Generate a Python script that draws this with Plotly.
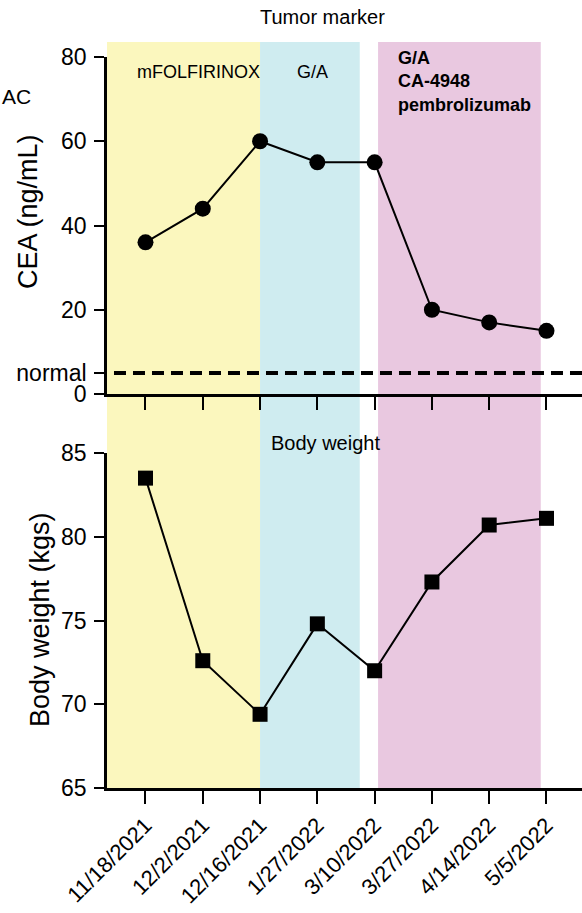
import plotly.graph_objects as go

# Visit dates and measurements
dates = ["11/18/2021", "12/2/2021", "12/16/2021", "1/27/2022",
         "3/10/2022", "3/27/2022", "4/14/2022", "5/5/2022"]
cea = [36, 44, 60, 55, 55, 20, 17, 15]
weight = [83.5, 72.6, 69.4, 74.8, 72.0, 77.3, 80.7, 81.1]
cea_normal = 5

# Treatment periods (in visit-index units)
periods = [
    (-0.672, 2.0, "#FBF7BE"),
    (2.0, 3.74, "#CFECF0"),
    (4.06, 6.9, "#E9C8E0"),
]

W, H = 582, 913
FONT = "Liberation Sans, Arial, sans-serif"


def py(px):
    return 1 - px / H


x_idx = list(range(len(dates)))
x_range = [-0.672, 7.62]

fig = go.Figure()

fig.add_trace(go.Scatter(
    x=x_idx, y=cea, mode="lines+markers", xaxis="x", yaxis="y",
    line=dict(color="black", width=2),
    marker=dict(symbol="circle", size=16, color="black"),
    showlegend=False, cliponaxis=False))

fig.add_trace(go.Scatter(
    x=x_idx, y=weight, mode="lines+markers", xaxis="x2", yaxis="y2",
    line=dict(color="black", width=2),
    marker=dict(symbol="square", size=15, color="black"),
    showlegend=False, cliponaxis=False))

shapes = []
for x0, x1, col in periods:
    shapes.append(dict(type="rect", xref="x", yref="paper", x0=x0, x1=x1,
                       y0=py(788), y1=py(42), fillcolor=col,
                       line=dict(width=0), layer="below"))
shapes.append(dict(type="line", xref="x", yref="y", x0=-0.55, x1=x_range[1],
                   y0=cea_normal, y1=cea_normal,
                   line=dict(color="black", width=4, dash="12px,7px")))

axis_common = dict(showline=True, linecolor="black", linewidth=2.5,
                   ticks="outside", tickcolor="black", tickwidth=2,
                   showgrid=False, zeroline=False, automargin=False)
tickfont_y = dict(family=FONT, size=23, color="black")

dom_x = [107 / W, 1]

fig.update_layout(
    width=W, height=H,
    margin=dict(l=0, r=0, t=0, b=0, autoexpand=False),
    paper_bgcolor="white", plot_bgcolor="rgba(0,0,0,0)",
    font=dict(family=FONT, color="black"),
    shapes=shapes,
    xaxis=dict(domain=dom_x, anchor="y", range=x_range,
               tickvals=x_idx, showticklabels=False, ticklen=13,
               **axis_common),
    yaxis=dict(domain=[py(394), py(57)], anchor="x", range=[0, 80],
               tickvals=[0, cea_normal, 20, 40, 60, 80],
               ticktext=["0", "normal", "20", "40", "60", "80"],
               ticklen=10, ticklabelstandoff=3, tickfont=tickfont_y,
               **axis_common),
    xaxis2=dict(domain=dom_x, anchor="y2", range=x_range,
                tickvals=x_idx, ticktext=dates, tickangle=-45, ticklen=13,
                ticklabelstandoff=0,
                tickfont=dict(family=FONT, size=22, color="black"),
                **axis_common),
    yaxis2=dict(domain=[py(788), py(453)], anchor="x2", range=[65, 85],
                tickvals=[65, 70, 75, 80, 85],
                ticklen=10, ticklabelstandoff=3, tickfont=tickfont_y,
                **axis_common),
)

ann = [
    dict(text="Tumor marker", x=322 / W, y=py(17), size=20),
    dict(text="mFOLFIRINOX", x=135 / W, y=py(72), size=18, xanchor="left"),
    dict(text="G/A", x=295 / W, y=py(72), size=18, xanchor="left"),
    dict(text="<b>G/A<br>CA-4948<br>pembrolizumab</b>", x=396 / W, y=py(46),
         size=18, xanchor="left", yanchor="top", align="left"),
    dict(text="Body weight", x=269 / W, y=py(443), size=20, xanchor="left"),
    dict(text="AC", x=0, y=py(97), size=21, xanchor="left"),
]
for a in ann:
    fig.add_annotation(
        text=a["text"], xref="paper", yref="paper", x=a["x"], y=a["y"],
        xanchor=a.get("xanchor", "center"), yanchor=a.get("yanchor", "middle"),
        align=a.get("align", "center"), showarrow=False,
        font=dict(family=FONT, size=a["size"], color="black"))

# Rotated axis titles
fig.add_annotation(text="CEA (ng/mL)", xref="paper", yref="paper",
                   x=28 / W, y=py(212), textangle=-90, showarrow=False,
                   xanchor="center", yanchor="middle",
                   font=dict(family=FONT, size=27, color="black"))
fig.add_annotation(text="Body weight (kgs)", xref="paper", yref="paper",
                   x=40 / W, y=py(620), textangle=-90, showarrow=False,
                   xanchor="center", yanchor="middle",
                   font=dict(family=FONT, size=27, color="black"))

fig.write_html("out.html")
